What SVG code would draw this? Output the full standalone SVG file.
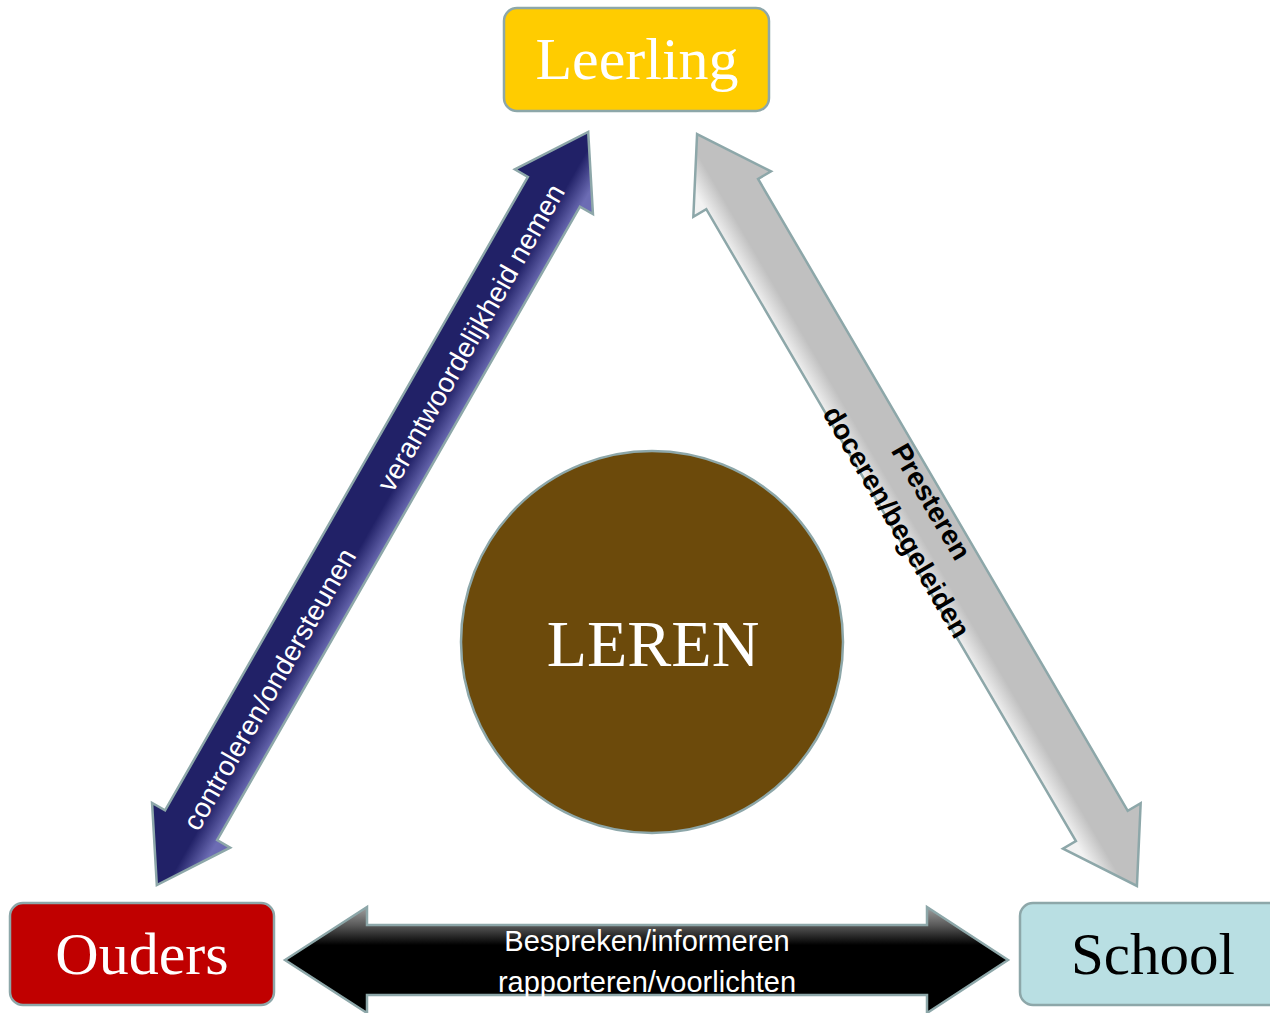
<svg xmlns="http://www.w3.org/2000/svg" width="1270" height="1013" viewBox="0 0 1270 1013">
<style>
.box{stroke:#8DA7A9;stroke-width:2.5}
.arr{stroke:#8DA7A9;stroke-width:2.5;stroke-linejoin:miter}
.nt{font-family:"Liberation Serif","Times New Roman",serif;text-anchor:middle}
.at{font-family:"Liberation Sans",Arial,sans-serif;font-size:28px;text-anchor:middle}
</style>
<defs>
<linearGradient id="gNavy" gradientUnits="userSpaceOnUse" x1="0" y1="-45" x2="0" y2="31">
<stop offset="0" stop-color="#212167"/>
<stop offset="0.7" stop-color="#212167"/>
<stop offset="1" stop-color="#6C6CB4"/>
</linearGradient>
<linearGradient id="gGray" gradientUnits="userSpaceOnUse" x1="0" y1="-45" x2="0" y2="31">
<stop offset="0" stop-color="#C0C0C0"/>
<stop offset="0.72" stop-color="#C0C0C0"/>
<stop offset="1" stop-color="#F2F2F2"/>
</linearGradient>
<linearGradient id="gBlack" gradientUnits="userSpaceOnUse" x1="0" y1="907" x2="0" y2="1013">
<stop offset="0" stop-color="#A0A0A0"/>
<stop offset="0.17" stop-color="#5A5A5A"/>
<stop offset="0.36" stop-color="#000"/>
<stop offset="1" stop-color="#000"/>
</linearGradient>
</defs>
<rect width="1270" height="1013" fill="#fff"/>
<g id="connectors">
<g id="arrow-leerling-ouders" transform="translate(372.5,508.5) rotate(-60.2)">
<polygon class="arr" fill="url(#gNavy)" points="-434,0 -365,-45 -365,-30 365,-30 365,-45 434,0 365,45 365,30 -365,30 -365,45"/>
<text class="at" fill="#fff" x="197" y="10">verantwoordelijkheid nemen</text>
<text class="at" fill="#fff" x="-208" y="10">controleren/ondersteunen</text>
</g>
<g id="arrow-leerling-school" transform="translate(917,510) rotate(59.67)">
<polygon class="arr" fill="url(#gGray)" points="-435.5,0 -366,-45 -366,-30 366,-30 366,-45 435.5,0 366,45 366,30 -366,30 -366,45"/>
<text class="at" fill="#000" font-weight="bold" x="0" y="-7">Presteren</text>
<text class="at" fill="#000" font-weight="bold" x="0" y="33">doceren/begeleiden</text>
</g>
<g id="arrow-ouders-school">
<polygon class="arr" fill="url(#gBlack)" points="285,960 367,907 367,925 927,925 927,907 1008,960 927,1013 927,995 367,995 367,1013"/>
<text class="at" fill="#fff" font-size="29" style="font-size:29px" x="647" y="951">Bespreken/informeren</text>
<text class="at" fill="#fff" style="font-size:29px" x="647" y="992">rapporteren/voorlichten</text>
</g>
</g>
<g id="node-leerling">
<rect class="box" x="504" y="8" width="265" height="103" rx="13" fill="#FFCC00"/>
<text class="nt" x="637" y="79" font-size="60" fill="#fff">Leerling</text>
</g>
<g id="node-ouders">
<rect class="box" x="10" y="903" width="264" height="102" rx="13" fill="#C00000"/>
<text class="nt" x="142" y="974" font-size="60" fill="#fff">Ouders</text>
</g>
<g id="node-school">
<rect class="box" x="1020" y="903" width="265" height="102" rx="13" fill="#B9DFE3"/>
<text class="nt" x="1153" y="974" font-size="59" fill="#000">School</text>
</g>
<g id="node-leren">
<circle cx="652" cy="642" r="191" fill="#6C4A0B" stroke="#8DA7A9" stroke-width="2.5"/>
<text class="nt" x="653" y="666" font-size="66" fill="#fff">LEREN</text>
</g>
</svg>
